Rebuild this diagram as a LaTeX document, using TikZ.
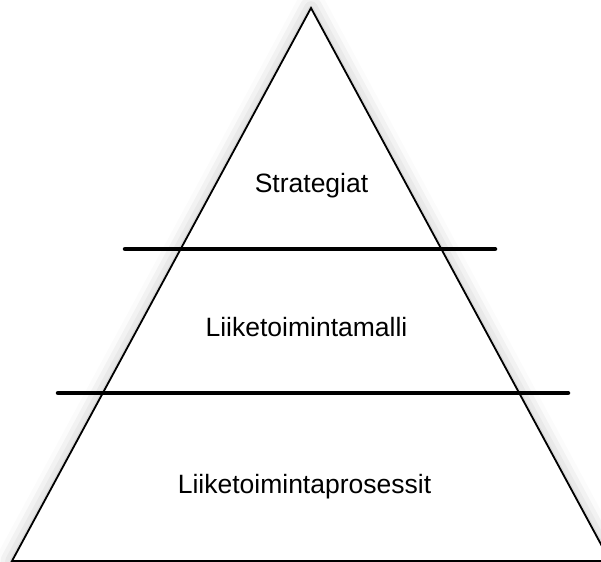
\documentclass[tikz,border=0pt]{standalone}
\usepackage{fontspec}
\setmainfont{Liberation Sans}
\usetikzlibrary{shadows.blur}
\begin{document}
\begin{tikzpicture}[x=1bp,y=-1bp,
  pyramid/.style={draw=black, line width=1.8bp, fill=white, line join=miter,
    blur shadow={shadow xshift=0bp, shadow yshift=0bp, shadow blur radius=16bp, shadow opacity=28}},
  divider/.style={line width=4.5bp, line cap=round},
  level/.style={font=\fontsize{26.6}{31}\selectfont, inner sep=0pt, anchor=base}]
  \useasboundingbox (0,0) rectangle (601,562);
  \clip (0,0) rectangle (601,562);
  % pyramid outline
  \coordinate (apex) at (311,8);
  \coordinate (bl) at (12,561);
  \coordinate (br) at (610,561);
  \path[pyramid] (apex) -- (bl) -- (br) -- cycle;
  % dividing bars
  \coordinate (d1l) at (125,249);
  \coordinate (d1r) at (495,249);
  \coordinate (d2l) at (58,393);
  \coordinate (d2r) at (568,393);
  \draw[divider] (d1l) -- (d1r);
  \draw[divider] (d2l) -- (d2r);
  % level labels
  \node[level] (top) at (311.5,193) {Strategiat};
  \node[level] (mid) at (306.5,336) {Liiketoimintamalli};
  \node[level] (bot) at (304.5,493) {Liiketoimintaprosessit};
\end{tikzpicture}
\end{document}
